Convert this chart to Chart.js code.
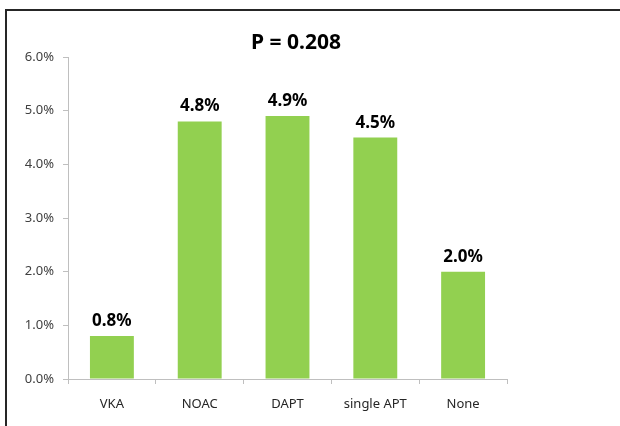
<!DOCTYPE html>
<html>
<head>
<meta charset="utf-8">
<script src="https://cdn.jsdelivr.net/npm/chart.js@4.4.1/dist/chart.umd.min.js"></script>
<style>
  html, body { margin: 0; padding: 0; background: #fff; }
  #wrap { position: relative; width: 620px; height: 426px; overflow: hidden; }
  #frame { position: absolute; left: 5px; top: 9px; width: 700px; height: 500px; border: 2px solid #262626; }
  canvas { position: absolute; left: 0; top: 0; }
</style>
</head>
<body>
<div id="wrap">
  <div id="frame"></div>
  <canvas id="chart" width="620" height="426"></canvas>
</div>
<script>
// values in percent
const categories = ['VKA', 'NOAC', 'DAPT', 'single APT', 'None'];
const rates = [0.8, 4.8, 4.9, 4.5, 2.0];
const yMax = 6;
const yStep = 1;
const title = 'P = 0.208';

const font = "'Noto Sans', 'DejaVu Sans', sans-serif";

// draws the title and the value on top of each bar
const labelsPlugin = {
    id: 'barLabels',
    afterDatasetsDraw(chart) {
        const ctx = chart.ctx;
        ctx.save();
        ctx.fillStyle = '#000';
        ctx.textAlign = 'center';
        ctx.textBaseline = 'middle';
        ctx.font = 'bold 21px ' + font;
        ctx.fillText(title, 296, 43);

        ctx.font = 'bold 17px ' + font;
        ctx.textBaseline = 'alphabetic';
        chart.getDatasetMeta(0).data.forEach((bar, i) => {
            ctx.fillText(rates[i].toFixed(1) + '%', bar.x, bar.y - 10);
        });
        ctx.restore();
    }
};

new Chart(document.getElementById('chart'), {
    type: 'bar',
    data: {
        labels: categories,
        datasets: [{
            data: rates,
            backgroundColor: '#92d050',
            borderWidth: 0,
            barPercentage: 0.5,
            categoryPercentage: 1
        }]
    },
    options: {
        responsive: false,
        animation: false,
        layout: { padding: { left: 0, right: 113, top: 57, bottom: 0 } },
        plugins: {
            legend: { display: false },
            tooltip: { enabled: false }
        },
        scales: {
            x: {
                grid: { drawOnChartArea: false, drawTicks: true, tickLength: 5, color: '#bfbfbf' },
                border: { color: '#bfbfbf' },
                ticks: { color: '#262626', font: { family: font, size: 13 }, padding: 12 },
                afterFit: (scale) => { scale.height = 47; }
            },
            y: {
                min: 0,
                max: yMax,
                grid: { drawOnChartArea: false, drawTicks: true, tickLength: 5, color: '#bfbfbf' },
                border: { color: '#bfbfbf' },
                ticks: {
                    stepSize: yStep,
                    color: '#404040',
                    font: { family: font, size: 13 },
                    padding: 9,
                    callback: (v) => v.toFixed(1) + '%'
                },
                afterFit: (scale) => { scale.width = 68; }
            }
        }
    },
    plugins: [labelsPlugin]
});
</script>
</body>
</html>
